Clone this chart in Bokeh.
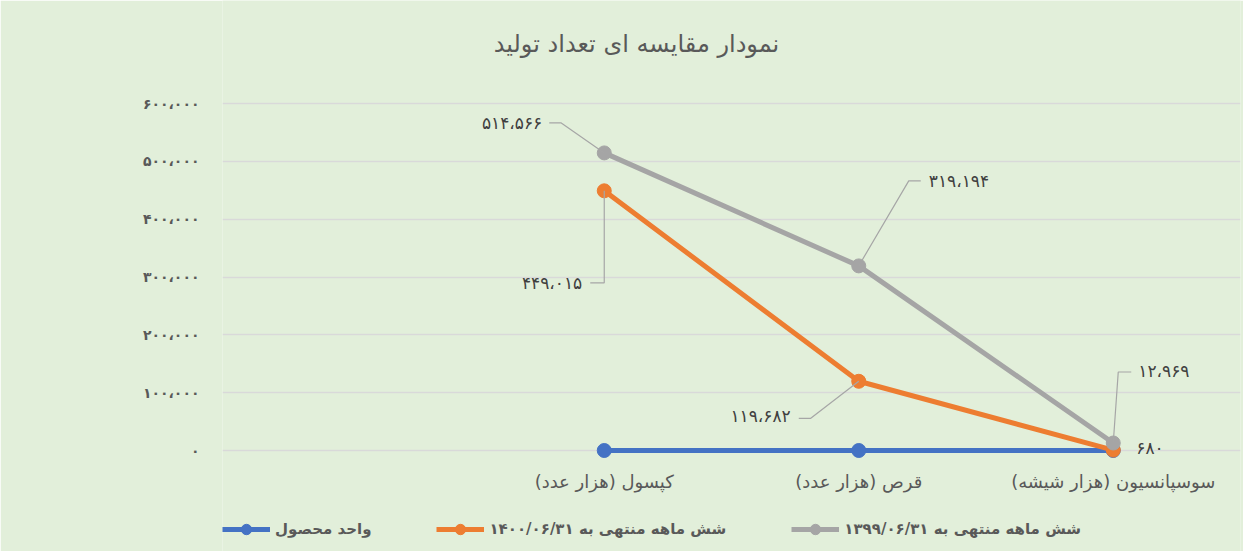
from bokeh.plotting import figure
from bokeh.models import (Range1d, FixedTicker, Label, Legend, LegendItem)
from bokeh.embed import file_html
from bokeh.resources import INLINE

# ---------------- data ----------------
title_text = "نمودار مقایسه ای تعداد تولید"
categories = ["", "کپسول (هزار عدد)", "قرص (هزار عدد)", "سوسپانسیون (هزار شیشه)"]
series_names = ["واحد محصول", "شش ماهه منتهی به ۱۴۰۰/۰۶/۳۱", "شش ماهه منتهی به ۱۳۹۹/۰۶/۳۱"]
unit_values = [0, 0, 0]
values_1400 = [449015, 119682, 680]
values_1399 = [514566, 319194, 12969]
y_ticks = [0, 100000, 200000, 300000, 400000, 500000, 600000]

# ---------------- helpers ----------------
FA = str.maketrans("0123456789,", "۰۱۲۳۴۵۶۷۸۹،")
def fa(n):
    return f"{n:,}".translate(FA)

W, H = 1243, 551
YMAX = 600000
PX_SPAN = 347          # pixels from 0 to YMAX
ZERO_Y = 450           # canvas y of value 0
LEFT, RIGHT = 222, 3
FW = W - LEFT - RIGHT
NX = len(categories)
ux = NX / FW
uy = YMAX / PX_SPAN

FONT = "DejaVu Sans"
GREY_TXT = "#595959"
BG = "#E2EFDA"

p = figure(width=W, height=H, output_backend="svg", toolbar_location=None,
           x_range=Range1d(0, NX),
           y_range=Range1d(-(H - ZERO_Y) * uy, ZERO_Y * uy),
           min_border_left=LEFT, min_border_right=RIGHT,
           min_border_top=0, min_border_bottom=0)
p.background_fill_color = BG
p.border_fill_color = BG
p.outline_line_color = None

# axes
p.xaxis.ticker = FixedTicker(ticks=[i + 0.5 for i in range(NX)])
p.xaxis.major_label_overrides = {i + 0.5: c for i, c in enumerate(categories)}
p.xaxis.fixed_location = 0
p.yaxis.ticker = FixedTicker(ticks=y_ticks)
p.yaxis.major_label_overrides = {t: fa(t) for t in y_ticks}
for ax in (p.xaxis[0], p.yaxis[0]):
    ax.axis_line_color = None
    ax.major_tick_line_color = None
    ax.minor_tick_line_color = None
    ax.major_tick_out = 0
    ax.major_tick_in = 0
    ax.major_label_text_color = GREY_TXT
    ax.major_label_text_font = FONT
p.xaxis.major_label_text_font_size = "18px"
p.xaxis.major_label_standoff = 20
p.yaxis.major_label_text_font_size = "14px"
p.yaxis.major_label_text_font_style = "bold"
p.yaxis.major_label_standoff = 23

p.xgrid.grid_line_color = None
p.ygrid.grid_line_color = "#D9D9D9"
p.ygrid.grid_line_width = 1.5

xs = [i + 0.5 for i in range(1, NX)]

colors = ["#4472C4", "#ED7D31", "#A5A5A5"]
data = [unit_values, values_1400, values_1399]
items = []
for name, vals, col in zip(series_names, data, colors):
    r1 = p.line(xs, vals, line_color=col, line_width=5)
    r2 = p.scatter(xs, vals, size=14, fill_color=col, line_color=col)
    items.append(LegendItem(label=name, renderers=[r1, r2]))

# ---------------- data labels with leader lines ----------------
# (series values, index, elbow px, end px, text px, align)  px offsets screen (y down)
label_specs = [
    (values_1399, 0, (-43, -30), (-55, -30), (-62, -30), "right"),
    (values_1399, 1, (50, -85), (62, -85), (70, -85), "left"),
    (values_1399, 2, (5, -71), (18, -71), (25, -72), "left"),
    (values_1400, 0, (0, 92), (-14, 92), (-22, 92), "right"),
    (values_1400, 1, (-48, 37), (-60, 37), (-68, 35), "right"),
    (values_1400, 2, None, None, (23, -2), "left"),
]
for vals, i, elbow, end, tpos, align in label_specs:
    x0, y0 = xs[i], vals[i]
    if elbow is not None:
        lx = [x0, x0 + elbow[0] * ux, x0 + end[0] * ux]
        ly = [y0, y0 - elbow[1] * uy, y0 - end[1] * uy]
        p.line(lx, ly, line_color="#A6A6A6", line_width=1.2)
    p.add_layout(Label(x=x0 + tpos[0] * ux, y=y0 - tpos[1] * uy, text=fa(vals[i]),
                       text_align=align, text_baseline="middle",
                       text_font=FONT, text_font_size="17px", text_color="#404040"))

# title (inside the frame, top area)
p.add_layout(Label(x=(636 - LEFT) * ux, y=(ZERO_Y - 43) * uy, text=title_text,
                   text_align="center", text_baseline="middle",
                   text_font=FONT, text_font_size="24px", text_color=GREY_TXT))

legend = Legend(items=items, orientation="horizontal", location=(0, 9),
                background_fill_alpha=0, border_line_color=None,
                label_text_font=FONT, label_text_font_size="15px",
                label_text_font_style="bold", label_text_color=GREY_TXT,
                glyph_width=48, glyph_height=26, label_standoff=5, spacing=65,
                padding=0, margin=0)
p.add_layout(legend)

open("out.html", "w").write(file_html(p, INLINE))
